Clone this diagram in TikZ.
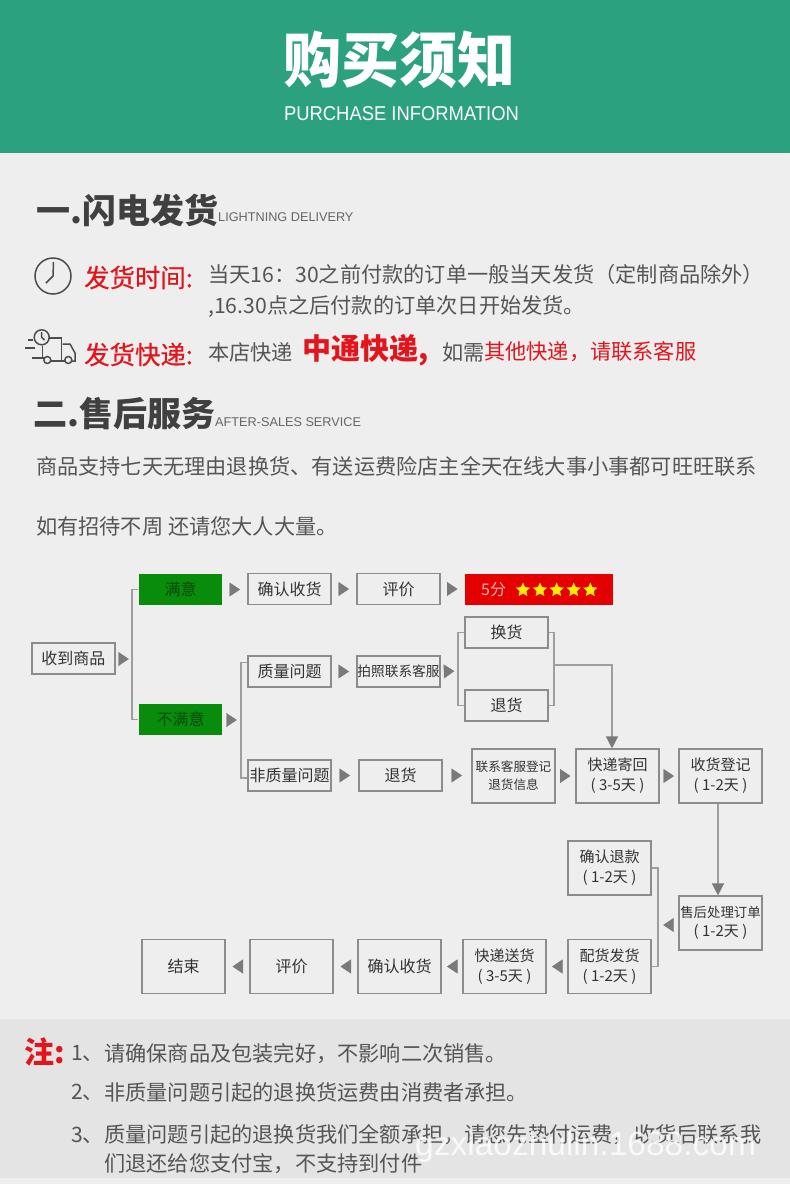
\documentclass[tikz,border=0pt]{standalone}
\usepackage{fontspec}
\setmainfont{Noto Sans CJK SC}
\setsansfont{Liberation Sans}
\usetikzlibrary{arrows.meta}
\usetikzlibrary{shapes.geometric}
\usetikzlibrary{decorations.markings}

\definecolor{pagegray}{HTML}{EEEEEE}
\definecolor{notegray}{HTML}{E4E4E4}
\definecolor{headgreen}{HTML}{2BA17F}
\definecolor{alertred}{HTML}{E3141B}
\definecolor{textgray}{HTML}{555555}
\definecolor{linegray}{HTML}{8C8C8C}
\definecolor{linklight}{HTML}{9E9E9E}
\definecolor{tipgray}{HTML}{7A7A7A}
\definecolor{okgreen}{HTML}{098C0B}
\definecolor{okdark}{HTML}{0A4A0A}

\newcommand{\pxsize}[1]{\fontsize{#1}{#1}\selectfont}

\tikzset{
  plain/.style={inner sep=0pt,anchor=west,yshift=-1pt,text=textgray,font=\pxsize{21.2}},
  heading/.style={inner sep=0pt,anchor=west,text=black!75,font=\pxsize{34}\bfseries},
  latin/.style={inner sep=0pt,anchor=west,text=black!60,font=\sffamily\pxsize{12.7}},
  redlabel/.style={inner sep=0pt,anchor=west,text=alertred,font=\pxsize{25.4}\addfontfeature{FakeBold=0.5}},
  flowbox/.style={draw=linegray,line width=1.2pt,inner sep=0pt,minimum width=83pt,minimum height=31pt,align=center,text=black!80,font=\pxsize{16}},
  tallbox/.style={flowbox,minimum height=54pt,font=\fontsize{15}{20}\selectfont},
  greenbox/.style={flowbox,draw=none,fill=okgreen,text=okdark},
  link/.style={draw=linklight,line width=1.5pt},
  icon/.style={draw=black!70,line width=1.5pt},
  ratestar/.style={star,star points=5,star point ratio=2.1,fill=yellow!95!orange,inner sep=0pt,minimum size=15pt},
  gapmark/.style={draw=none,postaction={decoration={markings,mark=at position 0.5 with {\arrow[xshift=5pt,tipgray]{Triangle[length=10.5pt,width=14pt]}}},decorate}}
}

\begin{document}
\begin{tikzpicture}[x=1pt,y=-1pt]
\useasboundingbox (0,0) rectangle (790,1184);

\fill [pagegray] (0,0) rectangle (790,1184);
\fill [headgreen] (0,0) rectangle (790,152.5);
\fill [notegray] (0,1019) rectangle (790,1178);

\draw (399,60) node[inner sep=0pt,yscale=1.04,text=white,font=\pxsize{58}\bfseries] (title) {购买须知};
\draw (401.5,114) node[inner sep=0pt,xscale=0.92,text=white,font=\sffamily\pxsize{20}] (subtitle) {PURCHASE INFORMATION};

% first section
\draw (36,210) node[heading] (headA) {一.闪电发货};
\draw (218,217.5) node[latin] (headAen) {LIGHTNING DELIVERY};

\draw [icon] (53,276) circle (18);
\draw [icon] (53.5,262) -- (53,276) -- (46,283);

\draw (84,277.5) node[redlabel] (timelabel) {发货时间:};
\draw (208,273) node[plain] (timeA) {当天16：30之前付款的订单一般当天发货（定制商品除外）};
\draw (208,306) node[plain] (timeB) {,16.30点之后付款的订单次日开始发货。};

\draw [icon] (41.7,337.3) circle (7.5);
\draw [icon] (41.7,332) -- (41.7,337.3) -- (44.5,340);
\draw [icon] (49,338) -- (61.7,338) -- (61.7,361) -- (51,361);
\draw [icon] (62.7,344) -- (70,344) -- (75,353) -- (75,361) -- (72,361);
\draw [icon] (64.5,361) -- (61.7,361);
\draw [icon] (42.7,346) -- (42.7,357);
\draw [icon] (47.3,360) circle (3.5);
\draw [icon] (68.3,360) circle (3.5);
\draw [icon] (27.5,340) -- (33,340);
\draw [icon] (25,348) -- (35,348);
\draw [icon] (32,358) -- (43.5,358);

\draw (84,354.5) node[redlabel] (expresslabel) {发货快递:};
\draw (208,351) node[plain] (expressA) {本店快递};
\draw (302,349) node[plain,text=alertred,font=\pxsize{29}\bfseries] (expressB) {中通快递,};
\draw (442,351) node[plain] (expressC) {如需};
\draw (484,351) node[plain,text=alertred] (expressD) {其他快递，请联系客服};

% second section
\draw (33,414) node[heading] (headB) {二.售后服务};
\draw (215,422) node[latin] (headBen) {AFTER-SALES SERVICE};
\draw (36,465) node[plain] (serviceA) {商品支持七天无理由退换货、有送运费险店主全天在线大事小事都可旺旺联系};
\draw (36,525) node[plain] (serviceB) {如有招待不周 还请您大人大量。};

% flow, top rows
\draw (73.5,658.5) node[flowbox] (received) {收到商品};
\draw (180.5,589.5) node[greenbox] (happy) {满意};
\draw (180.5,719.5) node[greenbox] (unhappy) {不满意};
\draw (289.5,589) node[flowbox] (confirmA) {确认收货};
\draw (398.5,589) node[flowbox] (rateA) {评价};
\draw (539,589.5) node[flowbox,draw=none,fill=red!90!black,minimum width=148pt] (score) {};
\draw (481,590) node[inner sep=0pt,anchor=west,text=red!30!white,font=\pxsize{16}] (scoretext) {5分};
\foreach \n/\sx in {1/523,2/540,3/556.7,4/573.7,5/590.3}
  \draw (\sx,590) node[ratestar] (star\n) {};

\draw (289.5,671.5) node[flowbox] (quality) {质量问题};
\draw (398.5,671.5) node[flowbox,font=\pxsize{13.7}] (photo) {拍照联系客服};
\draw (506.5,632.5) node[flowbox] (swap) {换货};
\draw (506.5,705.5) node[flowbox] (returnA) {退货};
\draw (289.5,775.5) node[flowbox] (noquality) {非质量问题};
\draw (400.5,775.5) node[flowbox] (returnB) {退货};

% flow, tall boxes
\draw (513.5,776) node[tallbox,font=\fontsize{12.6}{18}\selectfont] (contact) {联系客服登记\\退货信息};
\draw (617.5,776) node[tallbox] (sendback) {快递寄回\\( 3-5天 )};
\draw (720.5,776) node[tallbox] (register) {收货登记\\( 1-2天 )};
\draw (720.5,923) node[tallbox,font=\fontsize{13.4}{19}\selectfont] (process) {售后处理订单\\\fontsize{15}{19}\selectfont( 1-2天 )};
\draw (609.5,868) node[tallbox] (refund) {确认退款\\( 1-2天 )};
\draw (609.5,966.5) node[tallbox] (dispatch) {配货发货\\( 1-2天 )};
\draw (504.5,966.5) node[tallbox] (deliver) {快递送货\\( 3-5天 )};
\draw (399.5,966.5) node[tallbox,font=\pxsize{16}] (confirmB) {确认收货};
\draw (291.5,966.5) node[tallbox,font=\pxsize{16}] (rateB) {评价};
\draw (183.5,966.5) node[tallbox,font=\pxsize{16}] (finish) {结束};

\coordinate (forkA) at (132,659);
\coordinate (forkB) at (241,720);
\coordinate (forkC) at (458,671);
\coordinate (forkD) at (554,665);
\coordinate (forkE) at (658,925);

\draw [link] (happy.west) -| (forkA) |- (unhappy.west);
\draw [link] ([yshift=9pt]quality.west) -| (forkB) |- ([yshift=-2.5pt]noquality.west);
\draw [link] (swap.west) -| (forkC) |- (returnA.west);
\draw [link] (swap.east) -| (forkD) |- (returnA.east);
\draw [link] (refund.east) -| (forkE) |- (dispatch.east);

\draw [link,-{Triangle[length=12pt,width=12pt,color=tipgray]}] (forkD) -| ([xshift=-5.5pt]sendback.north);
\draw [link,-{Triangle[length=12pt,width=12pt,color=tipgray]}] ([xshift=-2.5pt]register.south) -- ([xshift=-2.5pt]process.north);

\draw [gapmark] (received.east |- forkA) -- (forkA);
\draw [gapmark] (unhappy.east |- forkB) -- (forkB);
\draw [gapmark] (happy.east) -- (confirmA.west |- happy.east);
\draw [gapmark] (confirmA.east) -- (rateA.west);
\draw [gapmark] (rateA.east) -- (score.west |- rateA.east);
\draw [gapmark] (quality.east) -- (photo.west);
\draw [gapmark] (photo.east) -- (forkC);
\draw [gapmark] (noquality.east) -- (returnB.west);
\draw [gapmark] (returnB.east) -- (contact.west |- returnB.east);
\draw [gapmark] (contact.east) -- (sendback.west);
\draw [gapmark] (sendback.east) -- (register.west);

\draw [gapmark] (process.west |- forkE) -- (forkE);
\draw [gapmark] (dispatch.west) -- (deliver.east);
\draw [gapmark] (deliver.west) -- (confirmB.east);
\draw [gapmark] (confirmB.west) -- (rateB.east);
\draw [gapmark] (rateB.west) -- (finish.east);

% notes
\draw (24,1052) node[inner sep=0pt,anchor=west,text=alertred,font=\pxsize{30}\bfseries] (notemark) {注:};
\draw (71,1053) node[plain] (noteA) {1、};
\draw (104,1053) node[plain] (noteAtext) {请确保商品及包装完好，不影响二次销售。};
\draw (71,1091) node[plain] (noteB) {2、};
\draw (104,1091) node[plain] (noteBtext) {非质量问题引起的退换货运费由消费者承担。};
\draw (71,1134) node[plain] (noteC) {3、};
\draw (104,1134) node[plain] (noteCtext) {质量问题引起的退换货我们全额承担，请您先垫付运费，收货后联系我};
\draw (104,1163) node[plain] (noteD) {们退还给您支付宝，不支持到付件};

\draw (415,1147) node[inner sep=0pt,anchor=west,text=white,opacity=0.8,font=\sffamily\pxsize{33.5}] (watermark) {gzxiaozhulin.1688.com};

\end{tikzpicture}
\end{document}
